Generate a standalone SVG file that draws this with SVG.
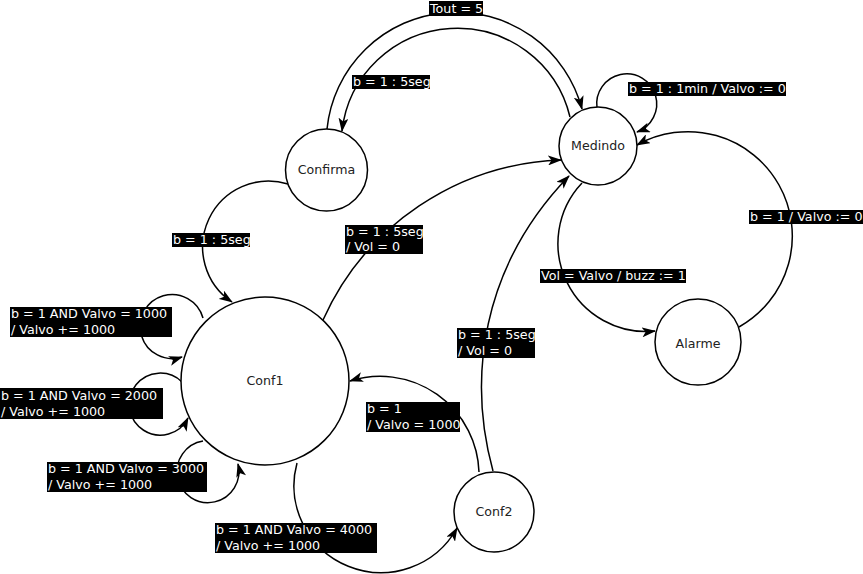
<svg xmlns="http://www.w3.org/2000/svg" width="863" height="574" viewBox="0 0 863 574">
<style>
.node circle{fill:#fff;stroke:#000;stroke-width:1.5}
.node text{font-family:"DejaVu Sans",sans-serif;font-size:12.6px;fill:#222;text-anchor:middle}
.edge path{fill:none;stroke:#000;stroke-width:1.5;marker-end:url(#arr)}
.lbl rect{fill:#000}
.lbl text{font-family:"DejaVu Sans",sans-serif;font-size:12.7px;fill:#fff}
</style>
<defs>
<marker id="arr" viewBox="0 0 14 10" refX="13" refY="5" markerWidth="14" markerHeight="10" markerUnits="userSpaceOnUse" orient="auto">
<path d="M0,0 L14,5 L0,10 L3.5,5 z" fill="#000"/>
</marker>
</defs>
<rect width="863" height="574" fill="#fff"/>
<g id="connectors">
<g class="edge">
<path d="M327,129 A130,130 0 0 1 582,109"/>
<path d="M570,117 A116,116 0 0 0 342,131"/>
<path d="M597,108 A30,30 0 1 1 637,132"/>
<path d="M739,327 A104,104 0 0 0 637,145"/>
<path d="M582,183 A88,88 0 0 0 655,331"/>
<path d="M288,184 A66,66 0 0 0 232,302"/>
<path d="M323,320 A271,271 0 0 1 561,160"/>
<path d="M493,471 C468,380 480,268 569,176"/>
<path d="M479,472 A99,99 0 0 0 350,381"/>
<path d="M297,463 A87,87 0 0 0 457,528"/>
<path d="M203,318 A32,32 0 1 0 182,357"/>
<path d="M182,382 A31,31 0 1 0 188,418"/>
<path d="M203,441 A31,31 0 1 0 238,464"/>
</g>
<g class="lbl">
<rect x="429" y="1" width="54" height="15"/><text x="430" y="13">Tout = 5</text>
<rect x="352" y="75" width="78" height="14"/><text x="353" y="86">b = 1 : 5seg</text>
<rect x="628" y="82" width="158" height="14"/><text x="629" y="93">b = 1 : 1min / Valvo := 0</text>
<rect x="749" y="210" width="114" height="14"/><text x="750" y="221">b = 1 / Valvo := 0</text>
<rect x="540" y="269" width="146" height="14"/><text x="541" y="280">Vol = Valvo / buzz := 1</text>
<rect x="172" y="233" width="78" height="14"/><text x="173" y="244">b = 1 : 5seg</text>
<rect x="345" y="225" width="78" height="29"/><text x="346" y="236">b = 1 : 5seg</text><text x="346" y="251">/ Vol = 0</text>
<rect x="457" y="328" width="78" height="30"/><text x="458" y="339">b = 1 : 5seg</text><text x="458" y="355">/ Vol = 0</text>
<rect x="366" y="402" width="94" height="30"/><text x="367" y="413">b = 1</text><text x="367" y="429">/ Valvo = 1000</text>
<rect x="215" y="523" width="162" height="30"/><text x="216" y="534">b = 1 AND Valvo = 4000</text><text x="216" y="550">/ Valvo += 1000</text>
<rect x="10" y="307" width="162" height="30"/><text x="11" y="318">b = 1 AND Valvo = 1000</text><text x="11" y="334">/ Valvo += 1000</text>
<rect x="0" y="388" width="163" height="31"/><text x="1" y="400">b = 1 AND Valvo = 2000</text><text x="1" y="416">/ Valvo += 1000</text>
<rect x="47" y="462" width="160" height="30"/><text x="48" y="473">b = 1 AND Valvo = 3000</text><text x="48" y="489">/ Valvo += 1000</text>
</g>
</g>
<g id="Confirma" class="node"><circle cx="326.5" cy="170" r="41"/><text x="326.5" y="174">Confirma</text></g>
<g id="Medindo" class="node"><circle cx="598" cy="146" r="39"/><text x="598" y="150">Medindo</text></g>
<g id="Alarme" class="node"><circle cx="698" cy="342" r="43"/><text x="698" y="348">Alarme</text></g>
<g id="Conf1" class="node"><circle cx="265" cy="381" r="84"/><text x="265" y="385">Conf1</text></g>
<g id="Conf2" class="node"><circle cx="494" cy="512" r="40"/><text x="494" y="516">Conf2</text></g>
</svg>
